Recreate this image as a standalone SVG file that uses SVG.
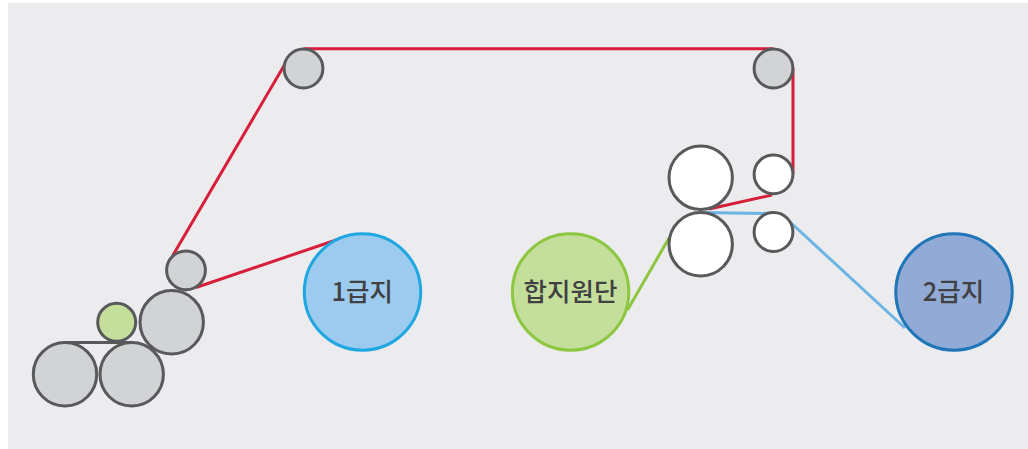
<svg xmlns="http://www.w3.org/2000/svg" width="1028" height="449" viewBox="0 0 1028 449">
<style>
.r{fill:#d1d3d4;stroke:#58595b;stroke-width:3}
.w{fill:#fff;stroke:#58595b;stroke-width:3}
.c{fill:none;stroke-width:3}
.t{font-family:"Noto Sans CJK KR","Noto Sans",sans-serif;font-size:25.500px;font-weight:500;fill:#414042;text-anchor:middle}
</style>
<rect x="8" y="2.500" width="1020" height="446.500" fill="#ecebee"/>
<g id="connectors">
<path class="c" stroke="#d71f3a" d="M172.500 256L285 64M303.500 48.800H773.500M793 68V174M196 287.500L345 237M709 209L772 195"/>
<path class="c" stroke="#6cb4e4" d="M700 212.500L773 213.500M790 222L905 328"/>
<path class="c" stroke="#8dc63f" d="M627.500 310L669 238"/>
<path class="c" stroke="#58595b" d="M65 342.500H131"/>
</g>
<g id="roller1"><circle class="r" cx="303.500" cy="68.500" r="19.400"/></g>
<g id="roller2"><circle class="r" cx="773.500" cy="68.500" r="19.400"/></g>
<g id="roller3"><circle class="w" cx="700.700" cy="177.700" r="31.700"/></g>
<g id="roller4"><circle class="w" cx="773.500" cy="174.300" r="19.400"/></g>
<g id="roller5"><circle class="w" cx="700.700" cy="244.300" r="31.700"/></g>
<g id="roller6"><circle class="w" cx="773.500" cy="232" r="19.400"/></g>
<g id="roller7"><circle class="r" cx="186" cy="270.300" r="19.400"/></g>
<g id="roller8"><circle cx="116.700" cy="322.300" r="19" fill="#c4df9b" stroke="#58595b" stroke-width="3"/></g>
<g id="roller9"><circle class="r" cx="171.700" cy="322.300" r="31.700"/></g>
<g id="roller10"><circle class="r" cx="65" cy="374.300" r="31.700"/></g>
<g id="roller11"><circle class="r" cx="131.700" cy="374.300" r="31.700"/></g>
<g id="paper1"><circle cx="362.500" cy="292" r="58.200" fill="#9ccbef" stroke="#1ea7e1" stroke-width="3"/><text class="t" x="362.300" y="301">1급지</text></g>
<g id="paper-main"><circle cx="570.600" cy="292" r="58.200" fill="#c4df9b" stroke="#8dc63f" stroke-width="3"/><text class="t" x="570.500" y="301">합지원단</text></g>
<g id="paper2"><circle cx="954" cy="292" r="58.200" fill="#91abd6" stroke="#1f75b8" stroke-width="3"/><text class="t" x="953.500" y="301">2급지</text></g>
</svg>
